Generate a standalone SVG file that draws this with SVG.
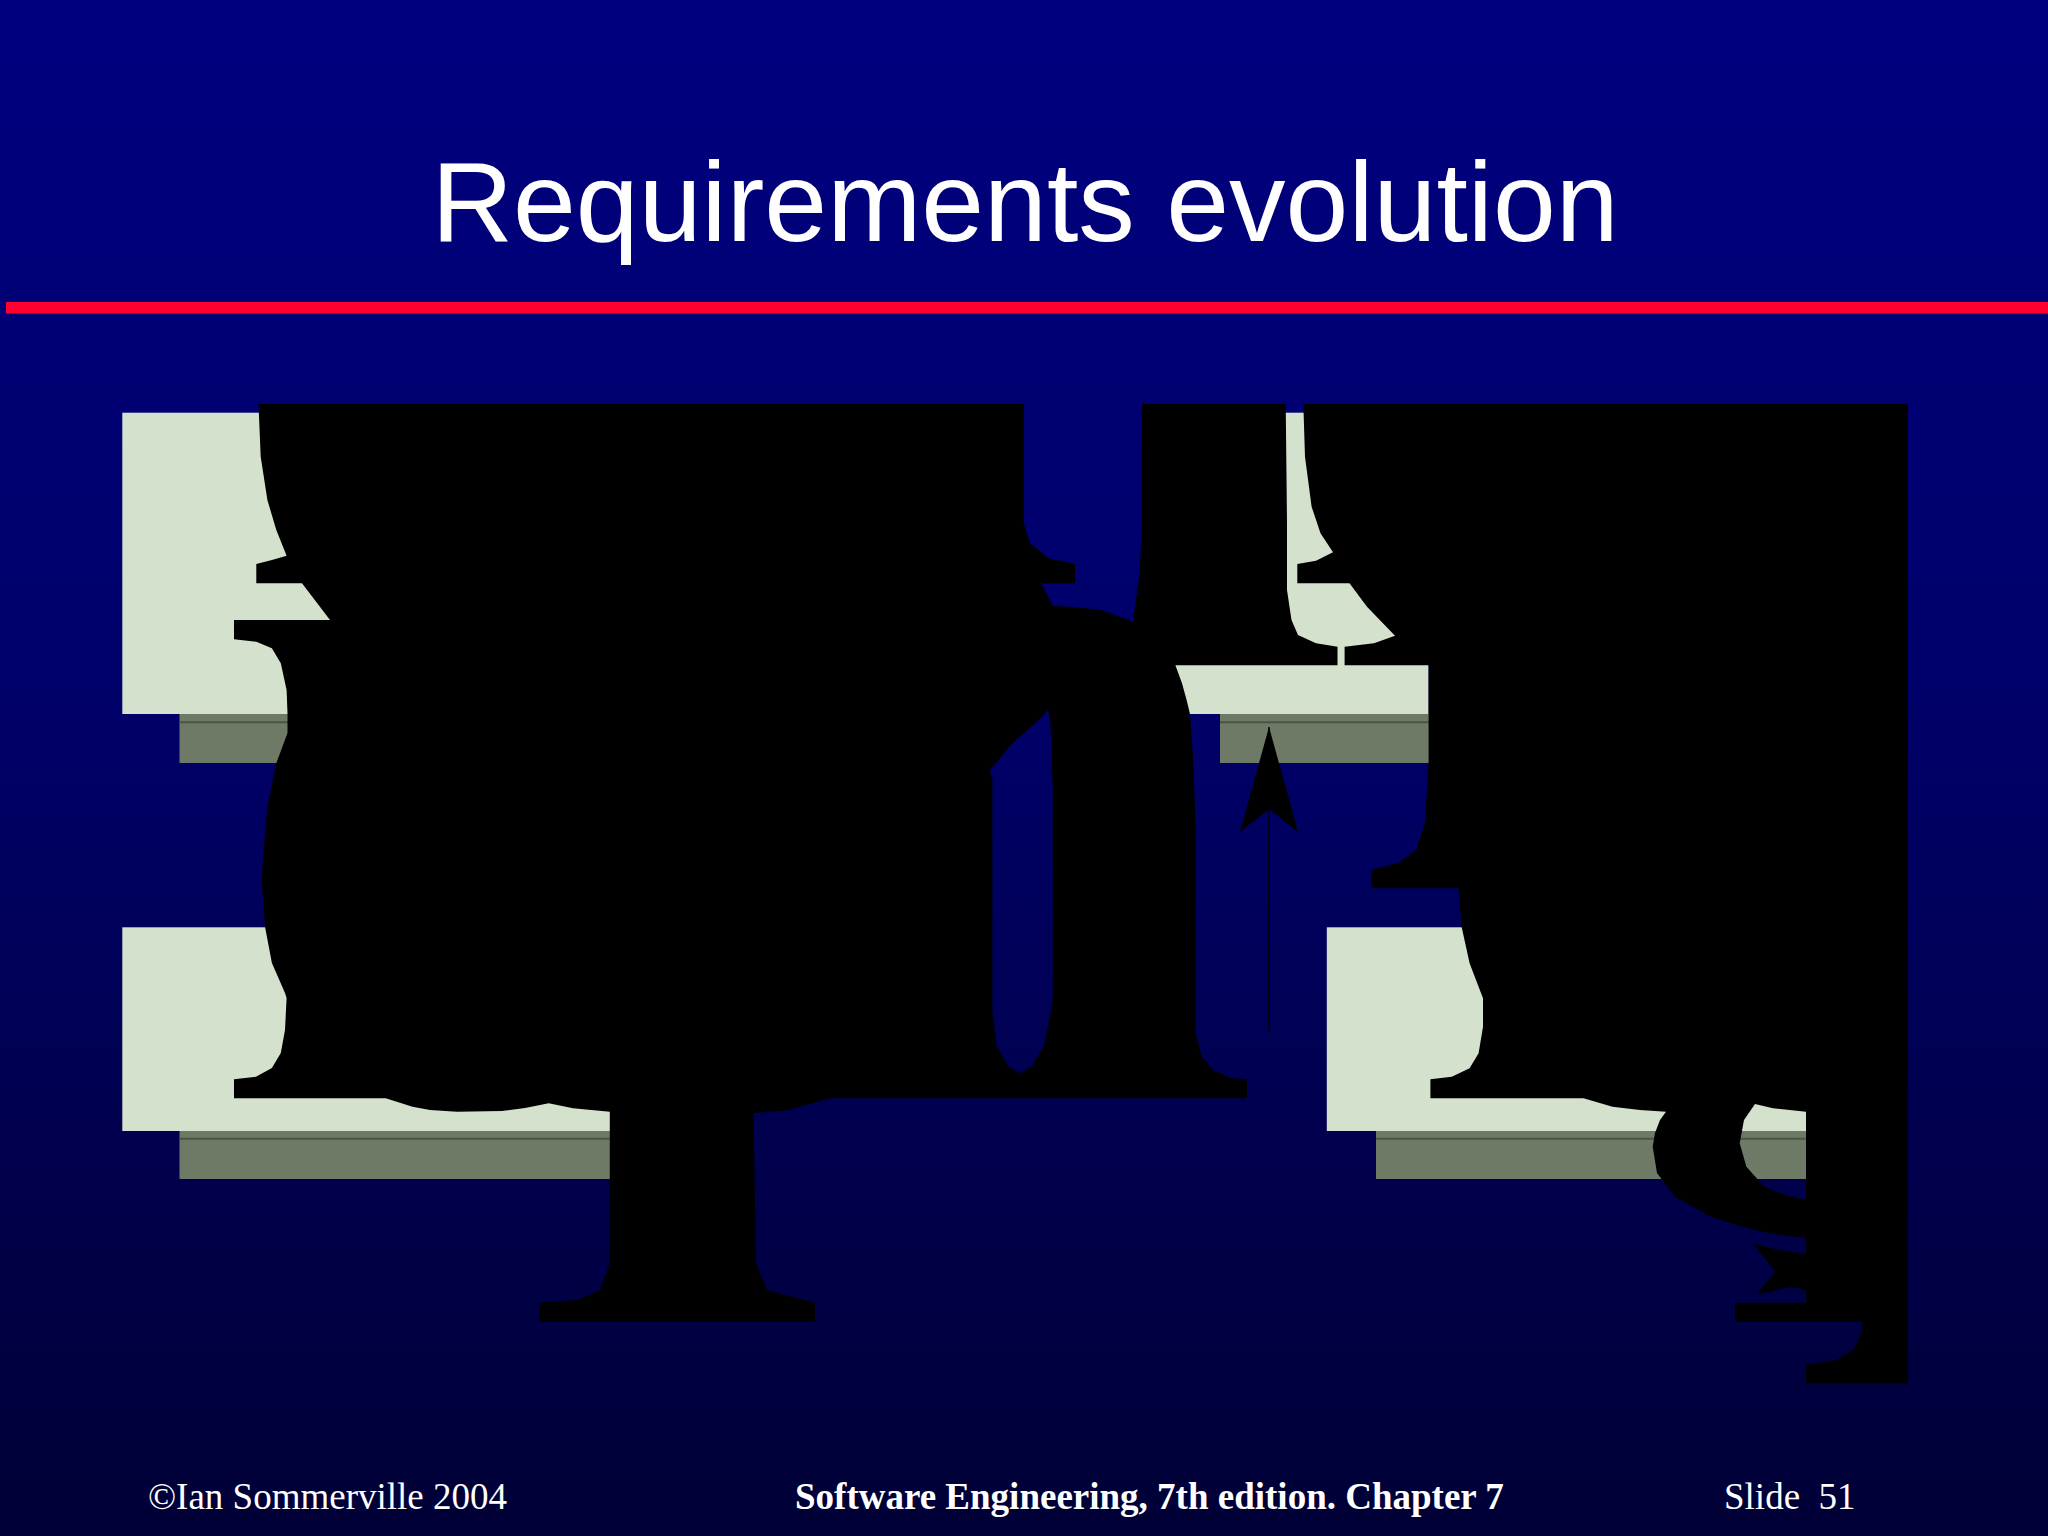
<svg xmlns="http://www.w3.org/2000/svg" width="2048" height="1536" viewBox="0 0 2048 1536">
  <defs>
    <linearGradient id="bg" x1="0" y1="0" x2="0" y2="1">
      <stop offset="0" stop-color="#000080"/>
      <stop offset="0.45" stop-color="#00006a"/>
      <stop offset="1" stop-color="#000036"/>
    </linearGradient>
    <marker id="stealth" viewBox="0 0 110 62" refX="105" refY="31" markerWidth="110" markerHeight="62" markerUnits="userSpaceOnUse" orient="auto">
      <path d="M105,31 L0,2 L23,31 L0,60 Z" fill="#000"/>
    </marker>
    <style>
      .box { fill: #d4e2cd; }
      .shadow { fill: #6e7a66; }
      .shline { stroke: #4a5544; stroke-width: 2; }
      .ink { fill: #000; fill-rule: evenodd; }
      .title { font-family: "Liberation Sans", Arial, sans-serif; font-size: 113px; fill: #fff; }
      .foot { font-family: "Liberation Serif", "Times New Roman", serif; font-size: 37px; fill: #fff; }
      .conn { stroke: #000; stroke-width: 1.5; fill: none; }
    </style>
  </defs>

  <rect x="0" y="0" width="2048" height="1536" fill="url(#bg)"/>

  <g id="title">
    <text class="title" x="1025" y="241" text-anchor="middle">Requirements evolution</text>
  </g>
  <rect id="title-rule" x="6" y="302" width="2042" height="11.5" fill="#ff0030"/>

  <g id="node-top-left">
    <rect class="shadow" x="179.5" y="714" width="570" height="49"/>
    <line class="shline" x1="179.5" y1="722.3" x2="749.5" y2="722.3"/>
    <rect class="box" x="122.3" y="412.7" width="570" height="301.3"/>
  </g>
  <g id="node-top-right">
    <rect class="shadow" x="1220" y="714" width="265.6" height="49"/>
    <line class="shline" x1="1220" y1="722.3" x2="1485.6" y2="722.3"/>
    <rect class="box" x="1163" y="412.7" width="265.6" height="301.3"/>
  </g>
  <g id="node-bottom-left">
    <rect class="shadow" x="179.5" y="1131" width="570" height="48"/>
    <line class="shline" x1="179.5" y1="1138.7" x2="749.5" y2="1138.7"/>
    <rect class="box" x="122.3" y="927.3" width="570" height="203.7"/>
  </g>
  <g id="node-bottom-right">
    <rect class="shadow" x="1376" y="1131" width="490" height="48"/>
    <line class="shline" x1="1376" y1="1138.7" x2="1866" y2="1138.7"/>
    <rect class="box" x="1326.8" y="927.3" width="540" height="203.7"/>
  </g>

  <g id="connectors">
    <line class="conn" x1="1269" y1="1032" x2="1269" y2="727" marker-end="url(#stealth)"/>
  </g>

  <g id="overlay-left">
    <path class="ink" d="M258.5,404 L1023.7,404 L1023.7,523 L1030,543 L1048,558 L1075,564 L1075,583.3 L1041.5,583.3 L1052.7,606 L1070.5,606.7 L1101.8,610 L1133,621.7 L1135,606.7 L1139.7,573 L1142,523 L1142,404 L1285.7,404 L1287,523 L1287,590 L1291.5,620 L1298,635 L1316,643.3 L1337.5,646.7 L1337.5,665.3 L1175.4,665.3 L1182,683.3 L1186.6,700 L1190,714 L1193,756.7 L1195.5,823 L1195.5,1033 L1202,1056.7 L1213,1070 L1231,1078 L1246.9,1079.3 L1246.9,1098.3 L829.5,1098.3 L789,1110 L753.6,1113.3 L756,1263.3 L767,1290 L815,1302.7 L815,1321.7 L539.7,1321.7 L539.7,1302.7 L577.7,1300 L600,1290 L609.8,1263 L609.8,1111.7 L573,1108.3 L548.7,1103.3 L525,1108 L501.8,1111 L457,1111.7 L430,1110 L412.5,1106.7 L385.7,1098.3 L234,1098.3 L234,1079.3 L256,1076.7 L271.9,1068 L280.8,1053 L285,1030 L286.6,998 L285,993 L271.9,963 L265,926.7 L261.6,880 L263,856.7 L267.4,806.7 L276.3,763.3 L287.5,733 L287.5,713 L286.6,690 L280.8,663.3 L271.9,648.3 L256.3,641.7 L234,639.3 L234,620 L330,620 L302,583.3 L256.3,583.3 L256.3,564 L271.9,560 L286.6,555.7 L276.3,530 L267.4,500 L260.7,456.7 Z M1048,710 L1050.4,723 L1052.7,790 L1052.7,1000 L1050.4,1013 L1043.75,1046.7 L1032,1066 L1020,1073.3 L1008,1066 L996.9,1046.7 L992.4,1013 L992.4,780 L990,770 L1012.5,743 L1039,720 Z"/>
  </g>
  <g id="overlay-right">
    <path class="ink" d="M1303.6,404 L1908,404 L1908,1383.3 L1806,1383.3 L1806,1365 L1835.7,1360 L1853.6,1350 L1860,1336.7 L1862.5,1321.7 L1735,1321.7 L1735,1302.7 L1806,1302.7 L1806,1290 L1790,1287 L1768,1292 L1757,1294 L1775,1272 L1765,1258 L1753,1244 L1780,1250 L1806,1254 L1806,1238.3 L1768.75,1233.3 L1740,1226 L1710.7,1216.7 L1675,1196.7 L1657,1173 L1652.7,1146.7 L1655,1133 L1660,1120 L1666,1111.7 L1640,1110 L1612.5,1106.7 L1583.5,1098.3 L1430.4,1098.3 L1430.4,1079.3 L1451.8,1076.7 L1469.6,1068.3 L1478.6,1053.3 L1483,1026.7 L1483,998.3 L1469.6,963.3 L1461.6,926.7 L1458.5,888.3 L1371,888.3 L1371,870 L1398,863 L1416,850 L1425,823 L1428.6,763 L1428.6,665.3 L1344.6,665.3 L1344.6,646.7 L1374,643.3 L1395,635.7 L1367,606.7 L1349.5,583.3 L1297.3,583.3 L1297.3,564 L1316,560.7 L1333,552.3 L1320.5,533.3 L1311.6,506.7 L1305,456.7 L1303.6,412.7 Z M1806,1111.7 L1773,1108.3 L1755,1104 L1744,1120 L1739.7,1143.3 L1746.4,1166.7 L1764.3,1186.7 L1785,1195 L1806,1200 Z"/>
  </g>

  <g id="footer">
    <text class="foot" x="148" y="1509">©Ian Sommerville 2004</text>
    <text class="foot" x="795" y="1509" font-weight="bold">Software Engineering, 7th edition. Chapter 7</text>
    <text class="foot" x="1724" y="1509" xml:space="preserve">Slide  51</text>
  </g>
</svg>
